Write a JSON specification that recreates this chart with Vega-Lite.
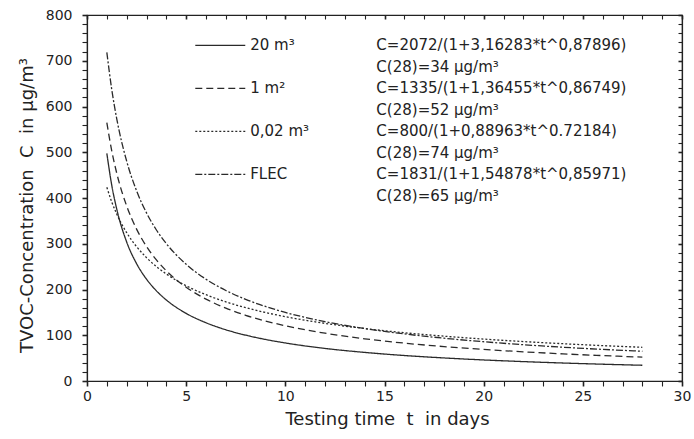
{
  "$schema": "https://vega.github.io/schema/vega-lite/v6.json",
  "width": 595,
  "height": 366,
  "autosize": {"type": "none"},
  "padding": {"left": 87, "top": 15, "right": 12, "bottom": 58},
  "background": "white",
  "config": {
    "view": {"stroke": "#222", "strokeWidth": 1.2},
    "font": "DejaVu Sans",
    "axis": {"grid": false, "domainColor": "#222", "tickColor": "#222", "labelColor": "#222", "titleColor": "#222", "domainWidth": 1.2, "labelFont": "DejaVu Sans", "titleFont": "DejaVu Sans"}
  },
  "datasets": {
    "curves": [
      {"s": "20 m³", "t": 1, "c": 497.7}, {"s": "20 m³", "t": 1.25, "c": 427.4}, {"s": "20 m³", "t": 1.5, "c": 375.6}, {"s": "20 m³", "t": 2, "c": 303.9}, {"s": "20 m³", "t": 2.5, "c": 256.5}, {"s": "20 m³", "t": 3, "c": 222.6}, {"s": "20 m³", "t": 3.5, "c": 197.1}, {"s": "20 m³", "t": 4, "c": 177.1}, {"s": "20 m³", "t": 5, "c": 147.8}, {"s": "20 m³", "t": 6, "c": 127.3}, {"s": "20 m³", "t": 7, "c": 112.0}, {"s": "20 m³", "t": 8, "c": 100.2}, {"s": "20 m³", "t": 9, "c": 90.8}, {"s": "20 m³", "t": 10, "c": 83.1}, {"s": "20 m³", "t": 12, "c": 71.2}, {"s": "20 m³", "t": 14, "c": 62.5}, {"s": "20 m³", "t": 16, "c": 55.7}, {"s": "20 m³", "t": 18, "c": 50.4}, {"s": "20 m³", "t": 20, "c": 46.0}, {"s": "20 m³", "t": 22, "c": 42.4}, {"s": "20 m³", "t": 24, "c": 39.3}, {"s": "20 m³", "t": 26, "c": 36.7}, {"s": "20 m³", "t": 28, "c": 34.4},
      {"s": "1 m²", "t": 1, "c": 564.6}, {"s": "1 m²", "t": 1.25, "c": 502.6}, {"s": "1 m²", "t": 1.5, "c": 454.1}, {"s": "1 m²", "t": 2, "c": 382.6}, {"s": "1 m²", "t": 2.5, "c": 332.0}, {"s": "1 m²", "t": 3, "c": 294.1}, {"s": "1 m²", "t": 3.5, "c": 264.6}, {"s": "1 m²", "t": 4, "c": 240.9}, {"s": "1 m²", "t": 5, "c": 205.0}, {"s": "1 m²", "t": 6, "c": 179.0}, {"s": "1 m²", "t": 7, "c": 159.3}, {"s": "1 m²", "t": 8, "c": 143.7}, {"s": "1 m²", "t": 9, "c": 131.2}, {"s": "1 m²", "t": 10, "c": 120.7}, {"s": "1 m²", "t": 12, "c": 104.5}, {"s": "1 m²", "t": 14, "c": 92.3}, {"s": "1 m²", "t": 16, "c": 82.8}, {"s": "1 m²", "t": 18, "c": 75.2}, {"s": "1 m²", "t": 20, "c": 69.0}, {"s": "1 m²", "t": 22, "c": 63.8}, {"s": "1 m²", "t": 24, "c": 59.3}, {"s": "1 m²", "t": 26, "c": 55.5}, {"s": "1 m²", "t": 28, "c": 52.2},
      {"s": "0,02 m³", "t": 1, "c": 423.4}, {"s": "0,02 m³", "t": 1.25, "c": 391.2}, {"s": "0,02 m³", "t": 1.5, "c": 364.9}, {"s": "0,02 m³", "t": 2, "c": 324.2}, {"s": "0,02 m³", "t": 2.5, "c": 293.7}, {"s": "0,02 m³", "t": 3, "c": 269.7}, {"s": "0,02 m³", "t": 3.5, "c": 250.2}, {"s": "0,02 m³", "t": 4, "c": 233.9}, {"s": "0,02 m³", "t": 5, "c": 208.2}, {"s": "0,02 m³", "t": 6, "c": 188.6}, {"s": "0,02 m³", "t": 7, "c": 173.0}, {"s": "0,02 m³", "t": 8, "c": 160.3}, {"s": "0,02 m³", "t": 9, "c": 149.7}, {"s": "0,02 m³", "t": 10, "c": 140.6}, {"s": "0,02 m³", "t": 12, "c": 126.0}, {"s": "0,02 m³", "t": 14, "c": 114.7}, {"s": "0,02 m³", "t": 16, "c": 105.5}, {"s": "0,02 m³", "t": 18, "c": 98.0}, {"s": "0,02 m³", "t": 20, "c": 91.6}, {"s": "0,02 m³", "t": 22, "c": 86.2}, {"s": "0,02 m³", "t": 24, "c": 81.5}, {"s": "0,02 m³", "t": 26, "c": 77.3}, {"s": "0,02 m³", "t": 28, "c": 73.7},
      {"s": "FLEC", "t": 1, "c": 718.4}, {"s": "FLEC", "t": 1.25, "c": 636.6}, {"s": "FLEC", "t": 1.5, "c": 573.1}, {"s": "FLEC", "t": 2, "c": 480.5}, {"s": "FLEC", "t": 2.5, "c": 415.7}, {"s": "FLEC", "t": 3, "c": 367.5}, {"s": "FLEC", "t": 3.5, "c": 330.1}, {"s": "FLEC", "t": 4, "c": 300.2}, {"s": "FLEC", "t": 5, "c": 255.1}, {"s": "FLEC", "t": 6, "c": 222.5}, {"s": "FLEC", "t": 7, "c": 197.9}, {"s": "FLEC", "t": 8, "c": 178.5}, {"s": "FLEC", "t": 9, "c": 162.9}, {"s": "FLEC", "t": 10, "c": 149.9}, {"s": "FLEC", "t": 12, "c": 129.7}, {"s": "FLEC", "t": 14, "c": 114.6}, {"s": "FLEC", "t": 16, "c": 102.9}, {"s": "FLEC", "t": 18, "c": 93.5}, {"s": "FLEC", "t": 20, "c": 85.8}, {"s": "FLEC", "t": 22, "c": 79.3}, {"s": "FLEC", "t": 24, "c": 73.8}, {"s": "FLEC", "t": 26, "c": 69.1}, {"s": "FLEC", "t": 28, "c": 65.0}
    ],
    "legend": [
      {"s": "20 m³", "x1": 5.46, "x2": 7.98, "xt": 8.23, "y": 733.8},
      {"s": "1 m²", "x1": 5.46, "x2": 7.98, "xt": 8.23, "y": 639.8},
      {"s": "0,02 m³", "x1": 5.46, "x2": 7.98, "xt": 8.23, "y": 545.8},
      {"s": "FLEC", "x1": 5.46, "x2": 7.98, "xt": 8.23, "y": 451.8}
    ],
    "formulas": [
      {"x": 14.59, "y": 733.8, "text": "C=2072/(1+3,16283*t^0,87896)"},
      {"x": 14.59, "y": 686.8, "text": "C(28)=34 µg/m³"},
      {"x": 14.59, "y": 639.8, "text": "C=1335/(1+1,36455*t^0,86749)"},
      {"x": 14.59, "y": 592.8, "text": "C(28)=52 µg/m³"},
      {"x": 14.59, "y": 545.8, "text": "C=800/(1+0,88963*t^0.72184)"},
      {"x": 14.59, "y": 498.8, "text": "C(28)=74 µg/m³"},
      {"x": 14.59, "y": 451.8, "text": "C=1831/(1+1,54878*t^0,85971)"},
      {"x": 14.59, "y": 404.8, "text": "C(28)=65 µg/m³"}
    ]
  },
  "layer": [
    {
      "data": {"name": "curves"},
      "mark": {"type": "line", "interpolate": "monotone", "color": "#2a2a2a", "strokeWidth": 1.3},
      "encoding": {
        "x": {"field": "t", "type": "quantitative", "scale": {"domain": [0, 30], "nice": false, "zero": false},
          "axis": {"orient": "bottom", "tickCount": 30, "tickSize": 5,
            "tickWidth": {"condition": {"test": "datum.value % 5 === 0", "value": 1.6}, "value": 1.1},
            "labelExpr": "datum.value % 5 === 0 ? datum.label : ''",
            "labelPadding": 3, "labelFontSize": 14, "labelFlush": false, "labelOverlap": false,
            "title": "Testing time\u00a0\u00a0t\u00a0\u00a0in days", "titleFontSize": 18, "titleFontWeight": "normal", "titleX": 300, "titleY": 43, "titleBaseline": "alphabetic", "titleAlign": "center"}},
        "y": {"field": "c", "type": "quantitative", "scale": {"domain": [0, 800], "nice": false},
          "axis": {"orient": "left", "tickCount": 40, "tickSize": 5,
            "tickWidth": {"condition": {"test": "datum.value % 100 === 0", "value": 1.6}, "value": 1.1},
            "labelExpr": "datum.value % 100 === 0 ? datum.label : ''",
            "labelPadding": 10, "labelFontSize": 14, "labelOverlap": false,
            "title": "TVOC-Concentration\u00a0\u00a0C\u00a0\u00a0in µg/m³", "titleFontSize": 18, "titleFontWeight": "normal", "titleAngle": -90, "titleX": -55, "titleY": 190, "titleBaseline": "alphabetic", "titleAlign": "center"}},
        "strokeDash": {"field": "s", "type": "nominal", "scale": {"domain": ["20 m³", "1 m²", "0,02 m³", "FLEC"], "range": [[1, 0], [7, 4], [2, 2], [7, 2, 2, 2]]}, "legend": null},
        "detail": {"field": "s"}
      }
    },
    {
      "data": {"name": "legend"},
      "mark": {"type": "rule", "color": "#2a2a2a", "strokeWidth": 1.3},
      "encoding": {
        "x": {"field": "x1", "type": "quantitative", "scale": {"domain": [0, 30], "nice": false, "zero": false},
          "axis": {"orient": "top", "tickCount": 30, "tickSize": -4,
            "tickWidth": {"condition": {"test": "datum.value % 5 === 0", "value": 1.6}, "value": 1.1},
            "labelExpr": "''", "domain": true, "title": null, "zindex": 2}},
        "x2": {"field": "x2"},
        "y": {"field": "y", "type": "quantitative", "scale": {"domain": [0, 800], "nice": false},
          "axis": {"orient": "right", "tickCount": 40, "tickSize": -4,
            "tickWidth": {"condition": {"test": "datum.value % 100 === 0", "value": 1.6}, "value": 1.1},
            "labelExpr": "''", "domain": true, "title": null, "zindex": 2}},
        "strokeDash": {"field": "s", "type": "nominal", "legend": null}
      }
    },
    {
      "data": {"name": "legend"},
      "mark": {"type": "text", "align": "left", "baseline": "middle", "fontSize": 15, "color": "#222", "font": "DejaVu Sans"},
      "encoding": {
        "x": {"field": "xt", "type": "quantitative", "scale": {"domain": [0, 30], "nice": false, "zero": false}, "axis": null},
        "y": {"field": "y", "type": "quantitative", "scale": {"domain": [0, 800], "nice": false}, "axis": null},
        "text": {"field": "s"}
      }
    },
    {
      "data": {"name": "formulas"},
      "mark": {"type": "text", "align": "left", "baseline": "middle", "fontSize": 15, "color": "#222", "font": "DejaVu Sans"},
      "encoding": {
        "x": {"field": "x", "type": "quantitative", "scale": {"domain": [0, 30], "nice": false, "zero": false}, "axis": null},
        "y": {"field": "y", "type": "quantitative", "scale": {"domain": [0, 800], "nice": false}, "axis": null},
        "text": {"field": "text"}
      }
    }
  ],
  "resolve": {"scale": {"x": "independent", "y": "independent"}, "axis": {"x": "independent", "y": "independent"}}
}
